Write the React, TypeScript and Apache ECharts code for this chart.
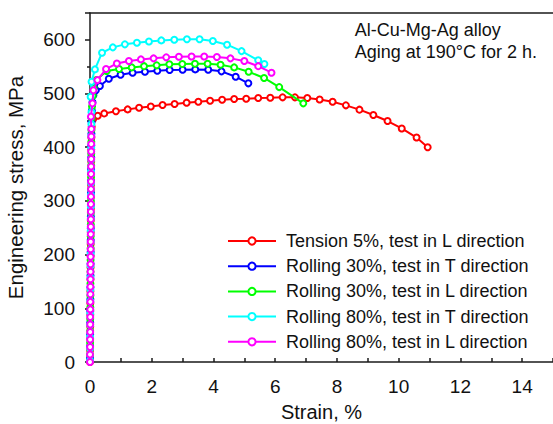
import React, { useEffect, useRef } from "react";
import * as echarts from "echarts";

const FONT = "Arial, 'Liberation Sans', Helvetica, sans-serif";

const seriesNames = [
  "Tension 5%, test in L direction",
  "Rolling 30%, test in T direction",
  "Rolling 30%, test in L direction",
  "Rolling 80%, test in T direction",
  "Rolling 80%, test in L direction",
];
const seriesColors = ["#ff0000", "#0000ff", "#00ff00", "#00ffff", "#ff00ff"];

const xTickLabels = [0, 2, 4, 6, 8, 10, 12, 14];
const yTickLabels = [0, 100, 200, 300, 400, 500, 600];
const noteLines = ["Al-Cu-Mg-Ag alloy", "Aging at 190°C for 2 h."];

// [strain %, stress MPa]
const tension5L: number[][] = [
  [0, 0], [0.002, 22], [0.004, 44], [0.007, 66], [0.009, 88], [0.011, 110], [0.013, 132],
  [0.015, 154], [0.018, 176], [0.02, 198], [0.022, 220], [0.024, 242], [0.026, 264],
  [0.029, 286], [0.031, 308], [0.033, 330], [0.035, 352], [0.038, 374], [0.04, 396],
  [0.045, 418], [0.055, 438], [0.1, 452],
  [0.25, 458.7], [0.46, 463], [0.84, 467], [1.22, 470.5], [1.59, 473.6], [1.97, 476],
  [2.35, 478.6], [2.74, 480.4], [3.13, 483], [3.51, 484.8], [3.89, 486.6], [4.28, 488.5],
  [4.67, 489.8], [5.06, 490.4], [5.45, 491.6], [5.84, 492.2], [6.24, 492.9], [6.64, 492.9],
  [7.04, 491.6], [7.44, 489], [7.86, 484.8], [8.29, 478], [8.73, 470], [9.18, 460],
  [9.64, 448.8], [10.1, 435], [10.58, 418], [10.94, 400],
];

const rolling30T: number[][] = [
  [0, 7], [0.003, 29], [0.005, 51], [0.007, 73], [0.009, 95], [0.012, 117], [0.014, 139],
  [0.016, 161], [0.018, 183], [0.021, 205], [0.023, 227], [0.025, 249], [0.027, 271],
  [0.03, 293], [0.032, 315], [0.034, 337], [0.036, 359], [0.039, 381], [0.042, 403],
  [0.046, 425], [0.05, 447], [0.06, 468], [0.08, 484], [0.11, 497],
  [0.19, 506], [0.32, 514], [0.61, 527.6], [0.99, 535], [1.38, 538.8], [1.78, 540.6],
  [2.18, 542.5], [2.58, 543.8], [3.0, 544.3], [3.41, 545], [3.83, 544.3], [4.26, 541.3],
  [4.72, 531.3], [5.13, 519],
];

const rolling30L: number[][] = [
  [0, 14], [0.003, 36], [0.005, 58], [0.007, 80], [0.01, 102], [0.012, 124], [0.014, 146],
  [0.016, 168], [0.019, 190], [0.021, 212], [0.023, 234], [0.026, 256], [0.028, 278],
  [0.03, 300], [0.032, 322], [0.034, 344], [0.037, 366], [0.04, 388], [0.043, 410],
  [0.047, 432], [0.052, 454], [0.065, 476], [0.09, 496], [0.12, 510], [0.2, 525],
  [0.54, 542], [0.94, 545.6], [1.35, 548.7], [1.75, 551], [2.16, 552.5], [2.57, 554.4],
  [2.99, 555], [3.4, 555.5], [3.81, 555.5], [4.23, 553.6], [4.67, 548.7], [5.14, 540.6],
  [5.64, 529], [6.13, 512], [6.91, 481.7],
];

const rolling80T: number[][] = [
  [0, 3], [0.002, 25], [0.004, 47], [0.006, 69], [0.008, 91], [0.011, 113], [0.013, 135],
  [0.015, 157], [0.017, 179], [0.02, 201], [0.022, 223], [0.024, 245], [0.026, 267],
  [0.028, 289], [0.031, 311], [0.033, 333], [0.035, 355], [0.037, 377], [0.04, 399],
  [0.042, 421], [0.045, 443], [0.048, 465], [0.02, 494], [0.05, 522],
  [0.16, 545], [0.39, 576], [0.74, 586], [1.13, 591.6], [1.52, 594.6], [1.91, 597],
  [2.31, 599], [2.73, 600.2], [3.14, 601], [3.55, 601], [3.98, 597.8], [4.44, 591],
  [4.91, 579], [5.45, 562], [5.65, 555],
];

const rolling80L: number[][] = [
  [0, 0], [0.001, 14], [0.003, 28], [0.004, 42], [0.006, 56], [0.007, 70], [0.008, 84],
  [0.01, 98], [0.011, 112], [0.013, 126], [0.014, 140], [0.015, 154], [0.017, 168],
  [0.018, 182], [0.02, 196], [0.021, 210], [0.022, 224], [0.024, 238], [0.025, 252],
  [0.027, 266], [0.028, 280], [0.029, 294], [0.031, 308], [0.032, 322], [0.034, 336],
  [0.035, 350], [0.036, 364], [0.038, 378], [0.039, 392], [0.041, 406], [0.042, 420],
  [0.044, 434], [0.03, 457], [0.08, 481.7], [0.11, 506],
  [0.24, 525], [0.52, 545.6], [0.87, 556], [1.26, 560.5], [1.65, 563.6], [2.06, 565.5],
  [2.47, 567.4], [2.88, 568.6], [3.29, 569], [3.7, 569], [4.11, 568], [4.55, 565.5],
  [5.0, 560.5], [5.45, 551], [5.88, 538.8],
];

const seriesData = [tension5L, rolling30T, rolling30L, rolling80T, rolling80L];

export default function App() {
  const ref = useRef<HTMLDivElement>(null);
  useEffect(() => {
    if (!ref.current) return;
    const chart = echarts.init(ref.current, undefined, { renderer: "svg" });
    const axisColor = "#1a1a1a";
    chart.setOption({
      animation: false,
      backgroundColor: "#ffffff",
      textStyle: { fontFamily: FONT },
      grid: { left: 90, top: 13, right: 0, bottom: 62, containLabel: false, outerBoundsMode: "none" },
      legend: {
        orient: "vertical",
        left: 222,
        top: 227,
        itemWidth: 48,
        itemHeight: 9,
        itemGap: 7.2,
        data: seriesNames,
        textStyle: { fontFamily: FONT, fontSize: 18, color: "#111", padding: [0, 0, 0, 5] },
      },
      xAxis: [
        {
          type: "value",
          min: 0,
          max: 15,
          interval: 2,
          position: "bottom",
          name: "Strain, %",
          nameLocation: "middle",
          nameGap: 40,
          nameTextStyle: { fontSize: 20, color: "#111", fontFamily: FONT },
          axisLine: { show: true, onZero: false, lineStyle: { color: axisColor, width: 1.5 } },
          axisTick: { show: true, inside: true, length: 4, lineStyle: { color: axisColor, width: 1.5 } },
          minorTick: { show: true, splitNumber: 2, length: 4, lineStyle: { color: axisColor, width: 1.5 } },
          splitLine: { show: false },
          axisLabel: {
            margin: 15,
            fontSize: 19,
            color: "#111",
            fontFamily: FONT,
            showMaxLabel: false,
            formatter: (v: number) => (xTickLabels.includes(v) ? String(v) : ""),
          },
        },
        {
          type: "value",
          min: 0,
          max: 15,
          position: "top",
          axisLine: { show: true, onZero: false, lineStyle: { color: axisColor, width: 1.5 } },
          axisTick: { show: false },
          axisLabel: { show: false },
          splitLine: { show: false },
        },
      ],
      yAxis: {
        type: "value",
        min: 0,
        max: 650,
        interval: 100,
        name: "Engineering stress, MPa",
        nameLocation: "middle",
        nameGap: 64,
        nameTextStyle: { fontSize: 20.5, color: "#111", fontFamily: FONT },
        axisLine: { show: true, onZero: false, lineStyle: { color: axisColor, width: 1.5 } },
        axisTick: { show: true, inside: false, length: 5, lineStyle: { color: axisColor, width: 1.5 } },
        minorTick: { show: true, splitNumber: 2, length: 3, lineStyle: { color: axisColor, width: 1.5 } },
        splitLine: { show: false },
        axisLabel: {
          margin: 15,
          fontSize: 19,
          color: "#111",
          fontFamily: FONT,
          showMaxLabel: false,
          formatter: (v: number) => (yTickLabels.includes(v) ? String(v) : ""),
        },
      },
      graphic: [
        {
          type: "text",
          right: 16,
          top: 19,
          style: {
            text: noteLines.join("\n"),
            align: "right",
            lineHeight: 22,
            fill: "#111",
            font: `18px ${FONT}`,
          },
        },
      ],
      series: seriesData.map((d, i) => ({
        name: seriesNames[i],
        type: "line",
        data: d,
        xAxisIndex: 0,
        symbol: "emptyCircle",
        symbolSize: 6,
        showAllSymbol: true,
        color: seriesColors[i],
        lineStyle: { width: 2, color: seriesColors[i] },
        itemStyle: { color: seriesColors[i], borderColor: seriesColors[i], borderWidth: 1.5 },
        z: 2 + i,
      })),
    });
    return () => chart.dispose();
  }, []);
  return <div ref={ref} style={{ width: 553, height: 424, position: "absolute", left: 0, top: 0 }} />;
}
